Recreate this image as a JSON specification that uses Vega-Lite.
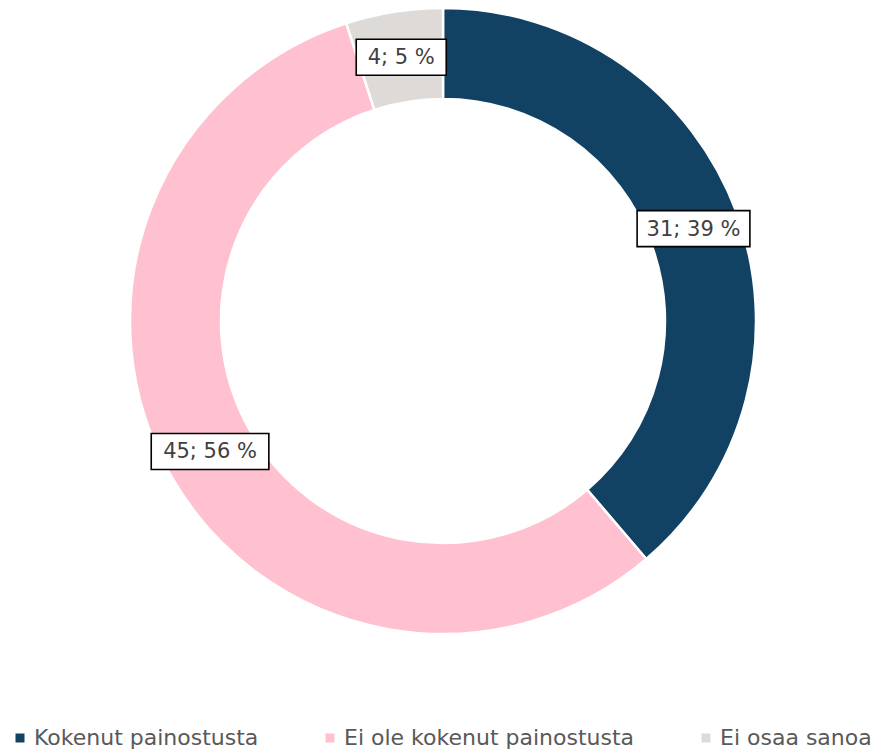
{
  "$schema": "https://vega.github.io/schema/vega-lite/v6.json",
  "width": 886,
  "height": 642,
  "autosize": {"type": "none"},
  "padding": {"left": 0, "top": 0, "right": 1, "bottom": 109},
  "background": "white",
  "config": {"view": {"stroke": null}},
  "data": {
    "values": [
      {"kategoria": "Kokenut painostusta", "i": 1, "n": 31, "teksti": "31; 39 %"},
      {"kategoria": "Ei ole kokenut painostusta", "i": 2, "n": 45, "teksti": "45; 56 %"},
      {"kategoria": "Ei osaa sanoa", "i": 3, "n": 4, "teksti": "4; 5 %"}
    ]
  },
  "layer": [
    {
      "mark": {"type": "arc", "radius": 313, "radius2": 222, "stroke": "white", "strokeWidth": 2.5},
      "encoding": {
        "theta": {"field": "n", "type": "quantitative", "stack": true},
        "order": {"field": "i", "type": "quantitative"},
        "color": {
          "field": "kategoria",
          "type": "nominal",
          "scale": {
            "domain": ["Kokenut painostusta", "Ei ole kokenut painostusta", "Ei osaa sanoa"],
            "range": ["#114163", "#FFC0CF", "#DEDAD7"]
          },
          "legend": {
            "orient": "none",
            "legendX": 9,
            "legendY": 727,
            "direction": "horizontal",
            "title": null,
            "symbolType": "square",
            "symbolSize": 81,
            "symbolStrokeWidth": 0,
            "labelFont": "DejaVu Sans",
            "labelFontSize": 22,
            "labelColor": "#595959",
            "labelOffset": 3,
            "labelLimit": 500,
            "columnPadding": 60
          }
        }
      }
    },
    {
      "transform": [
        {"stack": "n", "groupby": [], "sort": [{"field": "i", "order": "ascending"}], "as": ["n0", "n1"]},
        {"joinaggregate": [{"op": "sum", "field": "n", "as": "yht"}]},
        {"calculate": "PI*(datum.n0+datum.n1)/datum.yht", "as": "kulma"},
        {"calculate": "267*sin(datum.kulma)", "as": "lx"},
        {"calculate": "267*cos(datum.kulma)", "as": "ly"}
      ],
      "encoding": {
        "x": {"field": "lx", "type": "quantitative", "scale": {"domain": [-443, 443], "nice": false, "zero": false}, "axis": null},
        "y": {"field": "ly", "type": "quantitative", "scale": {"domain": [-321, 321], "nice": false, "zero": false}, "axis": null}
      },
      "layer": [
        {
          "mark": {"type": "point", "filled": true, "fill": "white", "stroke": "black", "strokeWidth": 1.6, "size": 14400, "opacity": 1, "fillOpacity": 1, "strokeOpacity": 1},
          "encoding": {
            "shape": {
              "field": "i",
              "type": "nominal",
              "scale": {
                "domain": [1, 2, 3],
                "range": [
                  "M-0.94,-0.3L0.94,-0.3L0.94,0.3L-0.94,0.3Z",
                  "M-0.98,-0.3L0.98,-0.3L0.98,0.3L-0.98,0.3Z",
                  "M-0.75,-0.3L0.75,-0.3L0.75,0.3L-0.75,0.3Z"
                ]
              },
              "legend": null
            }
          }
        },
        {
          "mark": {"type": "text", "font": "DejaVu Sans", "fontSize": 21, "color": "#404040", "align": "center", "baseline": "middle", "dy": 1},
          "encoding": {
            "text": {"field": "teksti", "type": "nominal"}
          }
        }
      ]
    }
  ]
}
